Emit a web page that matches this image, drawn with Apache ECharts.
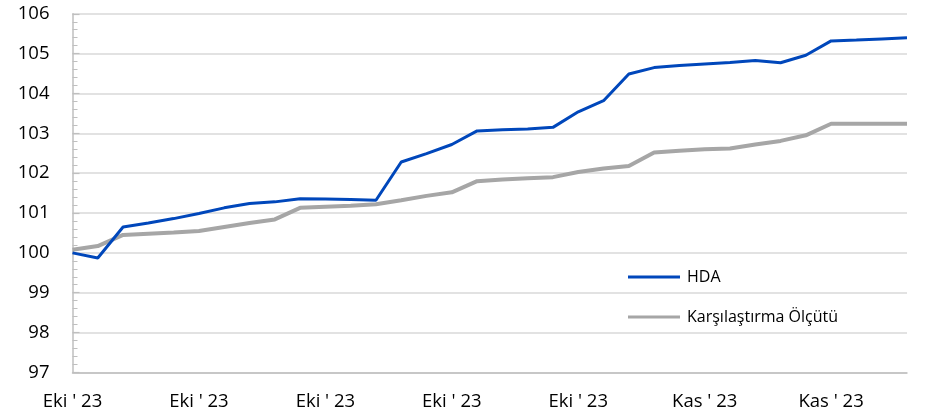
<!DOCTYPE html>
<html>
<head>
<meta charset="utf-8">
<script src="https://cdn.jsdelivr.net/npm/echarts@6/dist/echarts.min.js"></script>
<style>
html,body{margin:0;padding:0;background:#fff;}
#c{width:928px;height:418px;}
</style>
</head>
<body>
<div id="c"></div>
<script>
// Category labels (one per trading day; every 5th is shown)
const categories = [
  "Eki ' 23","Eki ' 23","Eki ' 23","Eki ' 23","Eki ' 23",
  "Eki ' 23","Eki ' 23","Eki ' 23","Eki ' 23","Eki ' 23",
  "Eki ' 23","Eki ' 23","Eki ' 23","Eki ' 23","Eki ' 23",
  "Eki ' 23","Eki ' 23","Eki ' 23","Eki ' 23","Eki ' 23",
  "Eki ' 23","Eki ' 23","Kas ' 23","Kas ' 23","Kas ' 23",
  "Kas ' 23","Kas ' 23","Kas ' 23","Kas ' 23","Kas ' 23",
  "Kas ' 23","Kas ' 23","Kas ' 23","Kas ' 23"
];
const seriesNames = ["HDA", "Karşılaştırma Ölçütü"];
const hda = [
  100.00, 99.87, 100.65, 100.75, 100.86, 100.99, 101.13, 101.24, 101.28, 101.36,
  101.35, 101.34, 101.32, 102.28, 102.49, 102.72, 103.06, 103.09, 103.11, 103.15,
  103.54, 103.82, 104.49, 104.65, 104.70, 104.74, 104.78, 104.83, 104.77, 104.96,
  105.32, 105.34, 105.37, 105.40
];
const benchmark = [
  100.08, 100.17, 100.45, 100.48, 100.51, 100.55, 100.65, 100.75, 100.84, 101.13,
  101.16, 101.18, 101.22, 101.32, 101.43, 101.52, 101.80, 101.84, 101.87, 101.90,
  102.03, 102.12, 102.18, 102.52, 102.56, 102.60, 102.62, 102.72, 102.81, 102.95,
  103.24, 103.24, 103.24, 103.24
];
const yMin = 97, yMax = 106, yStep = 1;

const chart = echarts.init(document.getElementById('c'), null, {renderer: 'canvas'});
const font = "'Open Sans', 'Noto Sans', sans-serif";
chart.setOption({
  animation: false,
  backgroundColor: '#ffffff',
  grid: {left: 72.5, right: 21, top: 13.8, bottom: 45.6, containLabel: false},
  legend: {
    orient: 'vertical',
    left: 623,
    top: 264,
    itemWidth: 52,
    itemHeight: 3,
    itemGap: 24,
    icon: 'rect',
    textStyle: {fontFamily: font, fontSize: 16, color: '#000', padding: [0, 0, 0, 2]},
    data: seriesNames
  },
  xAxis: {
    type: 'category',
    data: categories,
    boundaryGap: false,
    axisLine: {show: true, lineStyle: {color: '#bfbfbf', width: 1.5}},
    axisTick: {show: false},
    axisLabel: {
      interval: 4,
      margin: 20,
      fontFamily: font,
      fontSize: 18.5,
      color: '#000'
    },
    splitLine: {show: false}
  },
  yAxis: {
    type: 'value',
    min: yMin,
    max: yMax,
    interval: yStep,
    axisLine: {show: true, lineStyle: {color: '#bfbfbf', width: 1.5}},
    axisTick: {show: true, inside: true, length: 7, lineStyle: {color: '#bfbfbf', width: 1.2}},
    minorTick: {show: true, splitNumber: 5, length: 5, lineStyle: {color: '#bfbfbf', width: 1}},
    axisLabel: {margin: 23, fontFamily: font, fontSize: 18.5, color: '#000'},
    splitLine: {show: true, lineStyle: {color: '#d9d9d9', width: 1.5}}
  },
  series: [
    {
      name: seriesNames[0],
      type: 'line',
      data: hda,
      showSymbol: false,
      symbol: 'none',
      lineStyle: {color: '#0047bb', width: 3},
      itemStyle: {color: '#0047bb'},
      z: 3
    },
    {
      name: seriesNames[1],
      type: 'line',
      data: benchmark,
      showSymbol: false,
      symbol: 'none',
      lineStyle: {color: '#a6a6a6', width: 4},
      itemStyle: {color: '#a6a6a6'},
      z: 2
    }
  ]
});
</script>
</body>
</html>
